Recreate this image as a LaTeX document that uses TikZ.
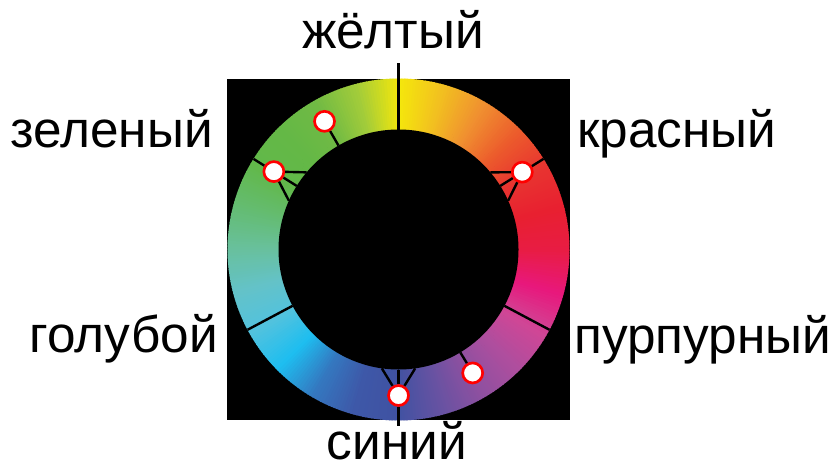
\documentclass[tikz,border=0pt]{standalone}
\usepackage{fontspec}
\setmainfont{Liberation Sans}
\usetikzlibrary{positioning}

% hues round the wheel, every 15 degrees clockwise from the top
\definecolor{wheel0}{HTML}{F4E70C}
\definecolor{wheel1}{HTML}{F2C020}
\definecolor{wheel2}{HTML}{F09030}
\definecolor{wheel3}{HTML}{EC5C2C}
\definecolor{wheel4}{HTML}{E83430}
\definecolor{wheel5}{HTML}{E82030}
\definecolor{wheel6}{HTML}{E81C44}
\definecolor{wheel7}{HTML}{E8187C}
\definecolor{wheel8}{HTML}{D04696}
\definecolor{wheel9}{HTML}{AE4E9E}
\definecolor{wheel10}{HTML}{8E50A0}
\definecolor{wheel11}{HTML}{6652A2}
\definecolor{wheel12}{HTML}{4052A2}
\definecolor{wheel13}{HTML}{3E58A8}
\definecolor{wheel14}{HTML}{3478C0}
\definecolor{wheel15}{HTML}{1EBEF0}
\definecolor{wheel16}{HTML}{52C2DE}
\definecolor{wheel17}{HTML}{64C2C8}
\definecolor{wheel18}{HTML}{68C09C}
\definecolor{wheel19}{HTML}{64BC70}
\definecolor{wheel20}{HTML}{62B84A}
\definecolor{wheel21}{HTML}{64B846}
\definecolor{wheel22}{HTML}{70BA44}
\definecolor{wheel23}{HTML}{A2CC3A}

\begin{document}
\begin{tikzpicture}[
    x=0.75pt, y=0.75pt,
    spoke/.style={draw=black, line width=1.8pt},
    huedot/.style={circle, draw=red, line width=2pt, fill=white,
                   minimum size=15pt, inner sep=0pt},
    colname/.style={font=\fontsize{38.5}{44}\selectfont, inner sep=0pt}
]
    \useasboundingbox (0,0) rectangle (837,465);
    \fill[black] (227,45) rectangle (570,386);

    \begin{scope}[shift={(398.5,215.5)}]
        % colour ring
        \foreach \i in {0,...,23} {
            \pgfmathtruncatemacro{\nx}{mod(\i+1,24)}
            \foreach \t in {0,...,14} {
                \pgfmathsetmacro{\a}{90-15*\i-\t}
                \pgfmathtruncatemacro{\p}{100-\t*100/15}
                \fill[wheel\i!\p!wheel\nx] (0,0) -- (\a:171)
                    arc[start angle=\a, end angle=\a-1.3, radius=171] -- cycle;
            }
        }
        \fill[black] (0,0) circle[radius=120];

        % ends of the spokes
        \coordinate (top-in) at (90:120);
        \coordinate (top-out) at (90:186.5);
        \coordinate (bot-out) at (-90:176);
        \coordinate (r-out) at (32:171);
        \coordinate (l-out) at (148:171);
        \coordinate (pr-in) at (-28:120);
        \coordinate (pr-out) at (-28:171);
        \coordinate (cy-in) at (208:120);
        \coordinate (cy-out) at (208:171);
        \coordinate (r-a) at (24:120);
        \coordinate (r-b) at (32:120);
        \coordinate (r-c) at (40:120);
        \coordinate (l-a) at (140:120);
        \coordinate (l-b) at (148:120);
        \coordinate (l-c) at (156:120);
        \coordinate (b-a) at (-98:120);
        \coordinate (b-b) at (-90:120);
        \coordinate (b-c) at (-82:120);
        \coordinate (g-in) at (120:120);
        \coordinate (p-in) at (-59:120);

        \node[huedot] (tri-r) at (32:146) {};
        \node[huedot] (tri-l) at (148:147) {};
        \node[huedot] (tri-b) at (-90:146) {};
        \node[huedot] (pair-g) at (120:148) {};
        \node[huedot] (pair-p) at (-59:144) {};

        \draw[spoke] (top-in) -- (top-out);
        \draw[spoke] (pr-in) -- (pr-out);
        \draw[spoke] (cy-in) -- (cy-out);
        \draw[spoke] (tri-r) -- (r-out);
        \draw[spoke] (tri-l) -- (l-out);
        \draw[spoke] (tri-b) -- (bot-out);
        \foreach \s in {a,b,c} {
            \draw[spoke] (tri-r) -- (r-\s);
            \draw[spoke] (tri-l) -- (l-\s);
            \draw[spoke] (tri-b) -- (b-\s);
        }
        \draw[spoke] (pair-g) -- (g-in);
        \draw[spoke] (pair-p) -- (p-in);
    \end{scope}

    \node[colname, anchor=base] (yellow) at (393,416) {жёлтый};
    \node[colname, anchor=base east] (green) at (213,318) {зеленый};
    \node[colname, anchor=base west] (red) at (577,318) {красный};
    \node[colname, anchor=base east] (cyan) at (218,113) {голубой};
    \node[colname, anchor=base west] (purple) at (574,112) {пурпурный};
    \node[colname, anchor=base] (blue) at (397,6) {синий};
\end{tikzpicture}
\end{document}
